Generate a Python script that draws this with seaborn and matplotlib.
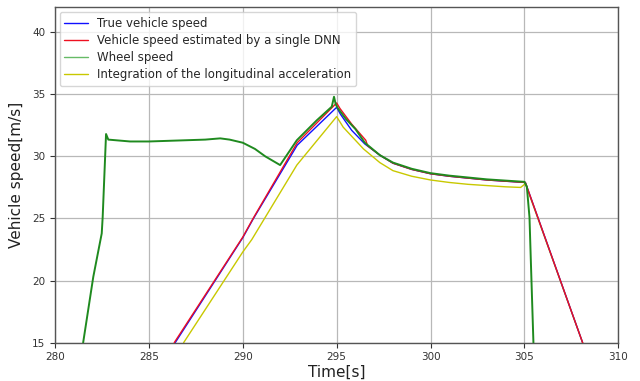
import matplotlib
matplotlib.use("Agg")
import matplotlib.pyplot as plt
import seaborn as sns
import pandas as pd

# True vehicle speed
t_true = [286.4, 290.0, 290.57, 292.9, 295.0, 295.2, 295.8, 296.5, 297.3, 298.0, 299.0, 300.0, 301.0, 302.0, 303.0, 304.0, 305.05, 308.1]
v_true = [15.0, 23.45, 25.0, 30.9, 33.95, 33.4, 32.1, 31.0, 30.1, 29.45, 28.95, 28.6, 28.4, 28.25, 28.1, 28.0, 27.9, 15.0]

# Vehicle speed estimated by a single DNN
t_dnn = [286.35, 290.0, 290.55, 292.9, 295.0, 295.18, 295.8, 296.55, 296.65, 297.3, 298.0, 299.0, 300.0, 301.0, 302.0, 303.0, 304.0, 305.05, 308.1]
v_dnn = [15.0, 23.5, 25.0, 31.1, 34.3, 33.85, 32.6, 31.3, 30.85, 30.1, 29.45, 28.95, 28.6, 28.4, 28.25, 28.1, 28.0, 27.9, 15.0]

# Wheel speed
t_wheel = [281.5, 282.04, 282.49, 282.54, 282.72, 282.84, 284.0, 285.0, 286.0, 287.0, 288.0, 288.8, 289.3, 290.0, 290.65, 291.2, 291.99, 292.88, 293.94, 294.74, 294.86, 294.95, 295.05, 295.5, 296.0, 296.5, 297.3, 298.0, 299.0, 300.0, 301.0, 302.0, 303.0, 304.0, 305.0, 305.13, 305.27, 305.34, 305.48]
v_wheel = [15.0, 20.3, 23.8, 25.1, 31.8, 31.35, 31.2, 31.2, 31.25, 31.3, 31.35, 31.45, 31.35, 31.1, 30.6, 30.0, 29.3, 31.3, 32.9, 34.0, 34.8, 34.2, 33.9, 33.0, 32.2, 31.1, 30.1, 29.5, 29.0, 28.65, 28.45, 28.3, 28.15, 28.05, 27.95, 27.55, 25.1, 21.7, 15.0]

# Integration of the longitudinal acceleration
t_acc = [286.85, 290.0, 290.48, 292.88, 295.0, 295.35, 296.43, 297.3, 298.0, 299.0, 300.0, 301.0, 302.0, 303.0, 304.0, 304.8, 305.05, 308.1]
v_acc = [15.0, 22.3, 23.3, 29.3, 33.2, 32.35, 30.6, 29.5, 28.85, 28.4, 28.1, 27.9, 27.75, 27.65, 27.55, 27.5, 27.8, 15.0]

labels = ["True vehicle speed",
          "Vehicle speed estimated by a single DNN",
          "Wheel speed",
          "Integration of the longitudinal acceleration"]

sns.set_theme(style="ticks")
plt.rcParams['font.family'] = ['DejaVu Sans']

fig = plt.figure(figsize=(6.4, 3.81), dpi=100)
ax = fig.add_axes([0.0859, 0.1005, 0.8802, 0.8803])

series = [
    (t_true, v_true, labels[0], "#1010ff", 1.0, 2),
    (t_dnn, v_dnn, labels[1], "#ee1020", 1.0, 3),
    (t_wheel, v_wheel, labels[2], "#1f8a1f", 1.4, 4),
    (t_acc, v_acc, labels[3], "#c8c800", 1.0, 1),
]
for t, v, lab, col, lw, z in series:
    df = pd.DataFrame({"t": t, "v": v})
    sns.lineplot(data=df, x="t", y="v", ax=ax, color=col, linewidth=lw,
                 label=lab, sort=False, estimator=None, zorder=z)

ax.set_xlim(280, 310)
ax.set_ylim(15, 42)
ax.set_xticks([280, 285, 290, 295, 300, 305, 310])
ax.set_yticks([15, 20, 25, 30, 35, 40])
ax.grid(True, color="#b8b8b8", linewidth=0.9)
ax.set_axisbelow(True)
ax.tick_params(axis="both", labelsize=7.5, colors="#333333", length=3.5, width=0.8, direction="out")
for sp in ax.spines.values():
    sp.set_color("#555555")
    sp.set_linewidth(1.0)
ax.set_xlabel("Time[s]", fontsize=11, color="#222222", labelpad=2)
ax.set_ylabel("Vehicle speed[m/s]", fontsize=11, color="#222222", labelpad=6)

leg = ax.legend(loc="upper left", fontsize=8.5, frameon=True, framealpha=0.8,
                edgecolor="#cccccc", fancybox=True, borderaxespad=0.4,
                labelspacing=0.35, handlelength=2.0)
for h in leg.get_lines():
    h.set_linewidth(1.0)
leg.get_lines()[2].set_color("#66bb66")

fig.savefig("out.png", dpi=100)
